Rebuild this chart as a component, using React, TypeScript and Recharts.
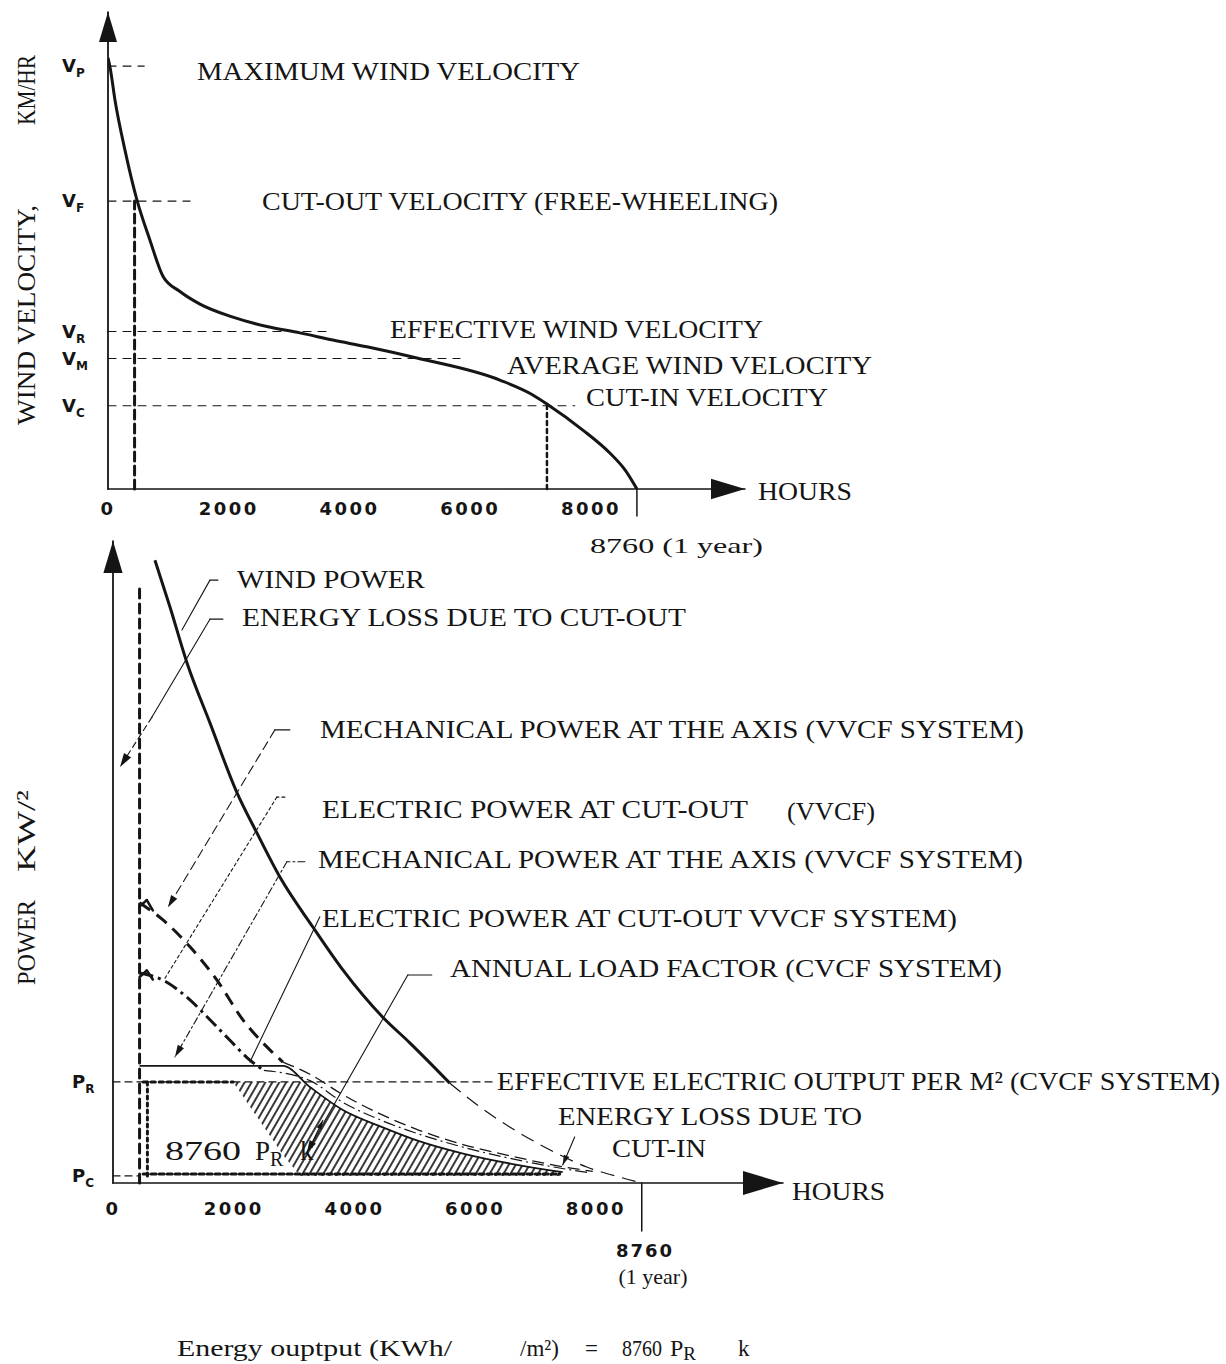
import { Area, ComposedChart, Line, ReferenceLine, XAxis, YAxis } from "recharts";

const SERIF = "'Liberation Serif', 'DejaVu Serif', serif";
const SANS = "'DejaVu Sans', 'Liberation Sans', sans-serif";
const INK = "#151515";

// ---------- upper graph: wind velocity duration curve ----------
const hourTicks = [0, 2000, 4000, 6000, 8000];
const yearHours = 8760;
const cutOutHours = 440;
const cutInHours = 7270;

// Vc, Vm, Vr, Vf, Vp
const velocityTicks = [18.5, 29, 35, 64, 94];
const velocityTickSubs = ["C", "M", "R", "F", "P"];
const velocityGuideEnds = [7730, 5830, 3725, 1360, 600];

const durationHours = [0, 33, 116, 281, 480, 695, 910, 1192, 1523, 2070, 2632, 3179, 3725, 4288, 5116, 6490, 7036, 7268, 7864, 8311, 8560, 8760];
const durationVelocity = [95.8, 93.8, 86.4, 75.3, 64.2, 55.3, 47.3, 43.9, 41.1, 38.2, 36.1, 34.7, 33.1, 31.6, 29.1, 24.2, 20.9, 18.9, 13.1, 8, 4.3, 0];

// ---------- lower graph: power duration curves ----------
// Pc, Pr
const powerTicks = [1.1, 15.8];
const powerTickSubs = ["C", "R"];
const powerGuideEnds = [cutOutHours, 6325];
const ratedOutput = 18.3;

const windHours = [695, 944, 1225, 1606, 2053, 2384, 2765, 3311, 3808, 4470, 4917, 5580];
const windPower = [97.3, 90, 81.3, 71.9, 61, 54.7, 47.8, 40, 33.3, 25.9, 21.9, 15.6];
const windTailHours = [5580, 6076, 6573, 7235, 7848, 8400, 8760];
const windTailPower = [15.6, 11.9, 8.75, 5.2, 2.5, 0.9, 0];

const mechHours = [440, 828, 1275, 1722, 2152, 2599, 2815];
const mechPower = [43.8, 41.1, 36.9, 31.7, 25.5, 20.8, 18.9];
const mechTailHours = [2815, 3262, 3808, 4470, 5083, 5800, 6600, 7300, 7950];
const mechTailPower = [18.9, 17, 13.8, 10.6, 8.2, 6, 4.2, 2.8, 1.8];

const elecHours = [440, 828, 1275, 1606, 1937, 2268, 2500];
const elecPower = [32.8, 31.7, 28.6, 25.5, 22.3, 19.2, 17.6];
const elecTailHours = [2500, 3262, 3808, 4470, 5083, 5800, 6600, 7300, 7900];
const elecTailPower = [17.6, 16, 12.6, 9.7, 7.6, 5.6, 3.8, 2.5, 1.6];

const cvcfHours = [440, 2815, 3262, 3808, 4470, 5083, 5800, 6600, 7300, 7450];
const cvcfPower = [ratedOutput, ratedOutput, 15, 11.4, 8.7, 6.5, 4.6, 3, 1.9, 1.7];

const hatchHours = [1990, 2815, 3100, 3262, 3808, 4470, 5083, 5800, 6600, 7300, 7450];
const hatchTop = [15.8, 15.8, 15.8, 15, 11.4, 8.7, 6.5, 4.6, 3, 1.9, 1.7];
const hatchBottom = [15.8, 4.4, 1.1, 1.1, 1.1, 1.1, 1.1, 1.1, 1.1, 1.1, 1.1];

// leader lines from the labels to the curves (hours, power)
const leaderHours = [
  [1738, 1606, 1142],
  [1821, 1606, 646],
  [646, 116],
  [2930, 2682],
  [2682, 911],
  [2848, 2715, 861],
  [3179, 2881, 1026],
  [3427, 2268],
  [5281, 4884, 3212],
  [7649, 7450],
  [3262, 3477],
  [440, 560, 660],
  [440, 560, 660],
];
const leaderPower = [
  [94.2, 94.2, 86.4],
  [88.1, 88.1, 72.8],
  [72.8, 65],
  [70.8, 70.8],
  [70.8, 43.1],
  [60.3, 60.3, 32],
  [50.2, 50.2, 19.7],
  [41.6, 18.9],
  [32.5, 32.5, 4.8],
  [7.2, 2.8],
  [5.6, 9.8],
  [43.2, 44.2, 42.6],
  [32.2, 33.2, 31.8],
];
const leaderDash = ["", "", "6 4", "", "9 5", "3 3", "7 3 2 3", "", "", "", "", "", ""];
const leaderWidth = [1.1, 1.1, 1.1, 1.1, 1.1, 1.1, 1.1, 1.1, 1.1, 1.1, 1.1, 2.6, 2.6];
const leaderArrow = [0, 0, 14, 0, 12, 0, 12, 0, 12, 10, 9, 0, 0];

const pts = (xs: number[], ys: number[]) => xs.map((h, i) => ({ h, v: ys[i] }));

const arrowLine = (width: number, dash: string, head: number) => (p: any) => {
  const { x1, y1, x2, y2 } = p;
  let headEl = null;
  if (head > 0) {
    const a = Math.atan2(y2 - y1, x2 - x1);
    const hw = head * 0.3;
    const bx = x2 - head * Math.cos(a);
    const by = y2 - head * Math.sin(a);
    const nx = -Math.sin(a) * hw;
    const ny = Math.cos(a) * hw;
    headEl = <polygon points={`${x2},${y2} ${bx + nx},${by + ny} ${bx - nx},${by - ny}`} fill={INK} />;
  }
  return (
    <g>
      <line x1={x1} y1={y1} x2={x2} y2={y2} stroke={INK} strokeWidth={width} strokeDasharray={dash} strokeLinecap="round" />
      {headEl}
    </g>
  );
};

const seg = (key: string, a: [number, number], b: [number, number], width: number, dash: string, head = 0) => (
  <ReferenceLine
    key={key}
    segment={[{ x: a[0], y: a[1] }, { x: b[0], y: b[1] }]}
    ifOverflow="visible"
    shape={arrowLine(width, dash, head)}
  />
);

const HourTick = (baseline: number) => (p: any) => (
  <text x={p.x} y={baseline} textAnchor="middle" fontFamily={SANS} fontWeight="bold" fontSize={18} letterSpacing={2.5} fill={INK}>
    {p.payload.value}
  </text>
);

const LetterTick = (letter: string, x: number, values: number[], subs: string[]) => (p: any) => (
  <text x={x} y={p.y + 6} fontFamily={SANS} fontWeight="bold" fontSize={18} fill={INK}>
    {letter}
    <tspan fontSize={12} dy={5}>{subs[values.indexOf(p.payload.value)]}</tspan>
  </text>
);

const labels = [
  // upper graph
  { x: 197, y: 80, w: 383, t: "MAXIMUM WIND VELOCITY" },
  { x: 262, y: 210, w: 516, t: "CUT-OUT VELOCITY (FREE-WHEELING)" },
  { x: 390, y: 338, w: 373, t: "EFFECTIVE WIND VELOCITY" },
  { x: 507, y: 374, w: 365, t: "AVERAGE WIND VELOCITY" },
  { x: 586, y: 406, w: 242, t: "CUT-IN VELOCITY" },
  { x: 758, y: 500, w: 94, t: "HOURS" },
  // lower graph
  { x: 237, y: 588, w: 188, t: "WIND POWER" },
  { x: 242, y: 626, w: 444, t: "ENERGY LOSS DUE TO CUT-OUT" },
  { x: 320, y: 738, w: 704, t: "MECHANICAL POWER AT THE AXIS (VVCF SYSTEM)" },
  { x: 322, y: 818, w: 426, t: "ELECTRIC POWER AT CUT-OUT" },
  { x: 787, y: 820, w: 88, t: "(VVCF)" },
  { x: 318, y: 868, w: 705, t: "MECHANICAL POWER AT THE AXIS (VVCF SYSTEM)" },
  { x: 322, y: 927, w: 635, t: "ELECTRIC POWER AT CUT-OUT VVCF SYSTEM)" },
  { x: 450, y: 977, w: 552, t: "ANNUAL LOAD FACTOR (CVCF SYSTEM)" },
  { x: 497, y: 1090, w: 723, t: "EFFECTIVE ELECTRIC OUTPUT PER M² (CVCF SYSTEM)" },
  { x: 558, y: 1125, w: 304, t: "ENERGY LOSS DUE TO" },
  { x: 612, y: 1157, w: 94, t: "CUT-IN" },
  { x: 792, y: 1200, w: 93, t: "HOURS" },
];

const TopChart = () => (
  <ComposedChart width={1226} height={540} margin={{ top: 17, right: 481, bottom: 21, left: 0 }}>
    <XAxis dataKey="h" type="number" domain={[0, 10550]} ticks={hourTicks} axisLine={false} tickLine={false} height={30} tick={HourTick(515)} allowDataOverflow />
    <YAxis type="number" domain={[0, 104.9]} ticks={velocityTicks} interval={0} axisLine={false} tickLine={false} width={108} tick={LetterTick("V", 62, velocityTicks, velocityTickSubs)} allowDataOverflow />
    {velocityTicks.map((v, i) => seg(`vg${i}`, [0, v], [velocityGuideEnds[i], v], 1.2, "8 7"))}
    {seg("vco", [cutOutHours, 0], [cutOutHours, velocityTicks[3]], 3, "9 5")}
    {seg("vci", [cutInHours, 0], [cutInHours, velocityTicks[0]], 2.5, "4 4")}
    {seg("vx", [0, 0], [10550, 0], 1.6, "", 34)}
    {seg("vy", [0, 0], [0, 106], 1.8, "", 30)}
    {seg("v8760", [yearHours, 0], [yearHours, -6], 1.5, "")}
    <Line data={pts(durationHours, durationVelocity)} dataKey="v" type="monotone" stroke={INK} strokeWidth={3} dot={false} isAnimationActive={false} />
  </ComposedChart>
);

const hatchData = hatchHours.map((h, i) => ({ h, v: [hatchBottom[i], hatchTop[i]] }));

const BottomChart = () => (
  <ComposedChart width={1226} height={720} margin={{ top: 23, right: 443, bottom: 27, left: 0 }}>
    <defs>
      <pattern id="hatch" width="6" height="6" patternUnits="userSpaceOnUse" patternTransform="rotate(30)">
        <line x1="1" y1="0" x2="1" y2="6" stroke={INK} strokeWidth="1.7" />
      </pattern>
    </defs>
    <XAxis dataKey="h" type="number" domain={[0, 11100]} ticks={hourTicks} axisLine={false} tickLine={false} height={30} tick={HourTick(695)} allowDataOverflow />
    <YAxis type="number" domain={[0, 100]} ticks={powerTicks} interval={0} axisLine={false} tickLine={false} width={113} tick={LetterTick("P", 72, powerTicks, powerTickSubs)} allowDataOverflow />
    <Area data={hatchData} dataKey="v" type="linear" stroke="none" fill="url(#hatch)" fillOpacity={1} isAnimationActive={false} />
    {powerTicks.map((v, i) => seg(`pg${i}`, [0, v], [powerGuideEnds[i], v], 1.2, "7 5"))}
    {seg("ptop", [cutOutHours + 60, powerTicks[1]], [1990, powerTicks[1]], 3, "4 4")}
    {seg("pbot", [cutOutHours + 60, powerTicks[0] + 0.3], [7400, powerTicks[0] + 0.3], 3, "5 3")}
    {seg("pleft", [cutOutHours + 130, powerTicks[0]], [cutOutHours + 130, powerTicks[1]], 3, "3 4")}
    {seg("pco", [cutOutHours, 0], [cutOutHours, 93.4], 3, "9 6")}
    {seg("px", [0, 0], [11100, 0], 1.6, "", 40)}
    {seg("py", [0, 0], [0, 100.3], 1.8, "", 32)}
    {seg("p8760", [yearHours, 0], [yearHours, -7.5], 1.5, "")}
    {leaderHours.map((hs, i) =>
      hs.slice(1).map((h, j) =>
        seg(`ld${i}-${j}`, [hs[j], leaderPower[i][j]], [h, leaderPower[i][j + 1]], leaderWidth[i], leaderDash[i], j === hs.length - 2 ? leaderArrow[i] : 0)
      )
    )}
    <Line data={pts(windHours, windPower)} dataKey="v" type="monotone" stroke={INK} strokeWidth={3} dot={false} isAnimationActive={false} />
    <Line data={pts(windTailHours, windTailPower)} dataKey="v" type="monotone" stroke={INK} strokeWidth={1.2} strokeDasharray="14 8" dot={false} isAnimationActive={false} />
    <Line data={pts(mechHours, mechPower)} dataKey="v" type="monotone" stroke={INK} strokeWidth={3} strokeDasharray="13 8" dot={false} isAnimationActive={false} />
    <Line data={pts(mechTailHours, mechTailPower)} dataKey="v" type="monotone" stroke={INK} strokeWidth={1.3} strokeDasharray="12 6" dot={false} isAnimationActive={false} />
    <Line data={pts(elecHours, elecPower)} dataKey="v" type="monotone" stroke={INK} strokeWidth={3} strokeDasharray="14 5 3 5" dot={false} isAnimationActive={false} />
    <Line data={pts(elecTailHours, elecTailPower)} dataKey="v" type="monotone" stroke={INK} strokeWidth={1.2} strokeDasharray="12 4 2 4" dot={false} isAnimationActive={false} />
    <Line data={pts(cvcfHours, cvcfPower)} dataKey="v" type="monotone" stroke={INK} strokeWidth={1.8} dot={false} isAnimationActive={false} />
  </ComposedChart>
);

export default function App() {
  return (
    <div style={{ position: "absolute", left: 0, top: 0, width: 1226, height: 1364, background: "#fff", overflow: "hidden" }}>
      <div style={{ position: "absolute", left: 0, top: 0 }}>
        <TopChart />
      </div>
      <div style={{ position: "absolute", left: 0, top: 520 }}>
        <BottomChart />
      </div>
      <svg width={1226} height={1364} style={{ position: "absolute", left: 0, top: 0, pointerEvents: "none" }}>
        <g fontFamily={SERIF} fontSize={26} fill={INK}>
          {labels.map((l, i) => (
            <text key={i} x={l.x} y={l.y} textLength={l.w} lengthAdjust="spacingAndGlyphs">{l.t}</text>
          ))}
          <text transform="translate(35,425) rotate(-90)" textLength={220} lengthAdjust="spacingAndGlyphs">WIND VELOCITY,</text>
          <text transform="translate(35,125) rotate(-90)" textLength={70} lengthAdjust="spacingAndGlyphs">KM/HR</text>
          <text transform="translate(35,985) rotate(-90)" textLength={85} lengthAdjust="spacingAndGlyphs">POWER</text>
          <text transform="translate(35,872) rotate(-90)" textLength={82} lengthAdjust="spacingAndGlyphs">KW/²</text>
          <text x={590} y={553} fontSize={22} textLength={173} lengthAdjust="spacingAndGlyphs">8760 (1 year)</text>
          <text x={165} y={1160} fontSize={27} textLength={76} lengthAdjust="spacingAndGlyphs">8760</text>
          <text x={255} y={1160} fontSize={27}>
            P<tspan fontSize={20} dy={6}>R</tspan>
          </text>
          <text x={300} y={1160} fontSize={27}>k</text>
          <text x={653} y={1284} fontSize={22} textAnchor="middle">(1 year)</text>
          <text x={177} y={1356} fontSize={23} textLength={275} lengthAdjust="spacingAndGlyphs">Energy ouptput (KWh/</text>
          <text x={520} y={1356} fontSize={23}>/m²)</text>
          <text x={585} y={1356} fontSize={23}>=</text>
          <text x={622} y={1356} fontSize={23} textLength={40} lengthAdjust="spacingAndGlyphs">8760</text>
          <text x={670} y={1356} fontSize={24}>
            P<tspan fontSize={19} dy={4}>R</tspan>
          </text>
          <text x={738} y={1356} fontSize={23}>k</text>
        </g>
        <text x={645} y={1257} textAnchor="middle" fontFamily={SANS} fontWeight="bold" fontSize={18} letterSpacing={2} fill={INK}>8760</text>
      </svg>
    </div>
  );
}
